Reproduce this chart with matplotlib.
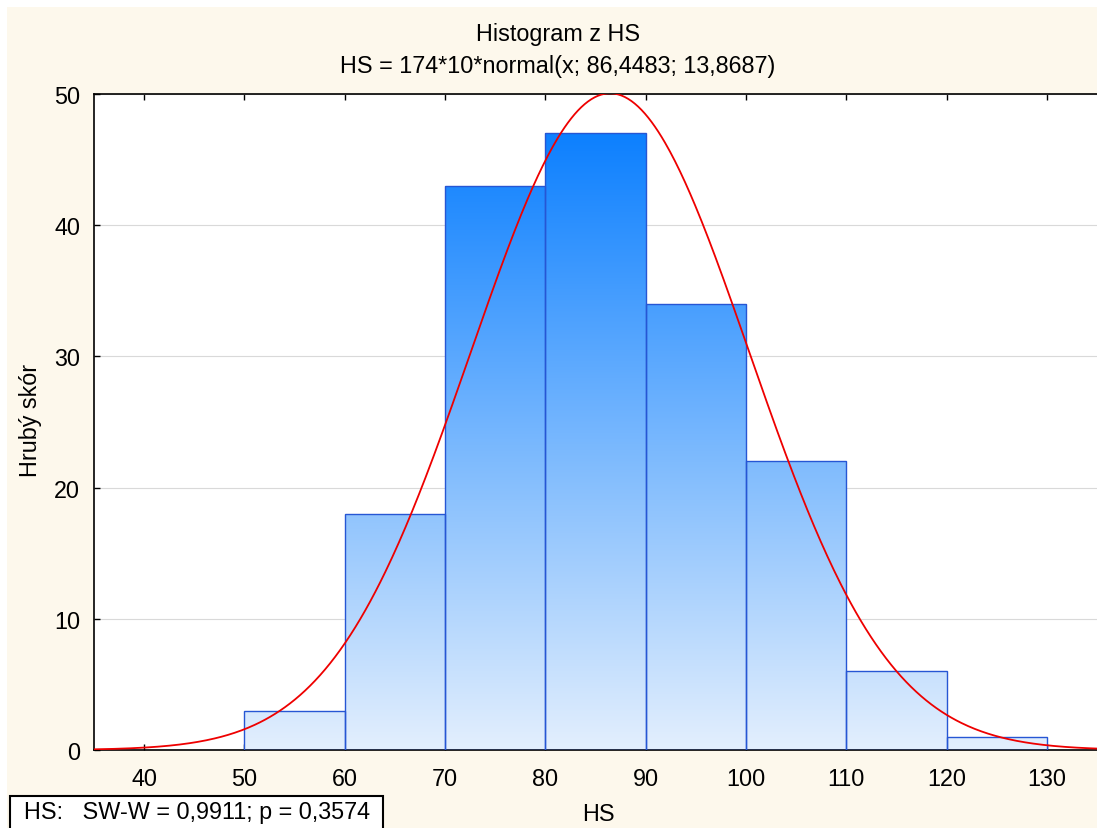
import numpy as np
import matplotlib.pyplot as plt
from matplotlib.colors import LinearSegmentedColormap
from matplotlib.patches import Rectangle

plt.rcParams['font.family'] = ['Liberation Sans', 'DejaVu Sans']

# data
bin_left = [50, 60, 70, 80, 90, 100, 110, 120]
bin_width = 10
counts = [3, 18, 43, 47, 34, 22, 6, 1]
n_total = 174
mu, sigma = 86.4483, 13.8687
x_ticks = [40, 50, 60, 70, 80, 90, 100, 110, 120, 130]
y_ticks = [0, 10, 20, 30, 40, 50]

FS = 16.8
W, H = 1097, 829
fig = plt.figure(figsize=(W / 100, H / 100), dpi=100, facecolor='white')
# cream page behind the plot
fig.patches.append(Rectangle((7 / W, 0), 1 - 7 / W, 1 - 8 / H, transform=fig.transFigure,
                             facecolor='#fdf8ec', edgecolor='none', zorder=-10))

ax = fig.add_axes([94 / W, 1 - 751 / H, 1 - 94 / W, (751 - 95) / H])
ax.set_facecolor('white')

cmap = LinearSegmentedColormap.from_list('bars', ['#e3effd', '#0d80ff'])
ymax = max(counts)
grad = np.linspace(0, 1, 256).reshape(-1, 1)
for x0, c in zip(bin_left, counts):
    rect = Rectangle((x0, 0), bin_width, c, facecolor='none', edgecolor='#2656d4',
                     linewidth=1.0, zorder=3)
    ax.add_patch(rect)
    im = ax.imshow(grad[:int(256 * c / ymax) + 1], cmap=cmap, vmin=0, vmax=1,
                   origin='lower', aspect='auto', extent=[x0, x0 + bin_width, 0, c],
                   interpolation='bilinear', zorder=2)
    im.set_clip_path(rect)

xs = np.linspace(35, 135, 600)
ys = n_total * bin_width * np.exp(-0.5 * ((xs - mu) / sigma) ** 2) / (sigma * np.sqrt(2 * np.pi))
ax.plot(xs, ys, color='#ee0000', linewidth=1.3, zorder=4)

ax.set_xlim(35, 135)
ax.set_ylim(0, 50)
ax.set_xticks(x_ticks)
ax.set_yticks(y_ticks)
ax.yaxis.grid(True, color='#d9d9d9', linewidth=0.8)
ax.set_axisbelow(True)
ax.tick_params(direction='in', length=4, width=1, labelsize=FS, pad=12,
               top=True, bottom=True, left=True, right=False)
ax.tick_params(axis='y', pad=10)
ax.spines['right'].set_visible(False)
for s in ['left', 'top', 'bottom']:
    ax.spines[s].set_linewidth(1.2)

fig.text(558 / W, 1 - 35 / H, 'Histogram z HS', ha='center', va='center', fontsize=FS)
fig.text(558 / W, 1 - 67 / H, 'HS = 174*10*normal(x; 86,4483; 13,8687)', ha='center',
         va='center', fontsize=FS)
fig.text(31 / W, 1 - 420 / H, 'Hrubý skór', rotation=90, ha='center', va='center', fontsize=FS)
fig.text(598 / W, 1 - 815 / H, 'HS', ha='center', va='center', fontsize=FS)

fig.patches.append(Rectangle((10 / W, -0.01), 373 / W, 0.01 + 1 - 797 / H,
                             transform=fig.transFigure, facecolor='white',
                             edgecolor='black', linewidth=1.5))
fig.text(24 / W, 1 - 813 / H, 'HS:   SW-W = 0,9911; p = 0,3574', ha='left', va='center',
         fontsize=FS)

fig.savefig('out.png', dpi=100, facecolor=fig.get_facecolor())
